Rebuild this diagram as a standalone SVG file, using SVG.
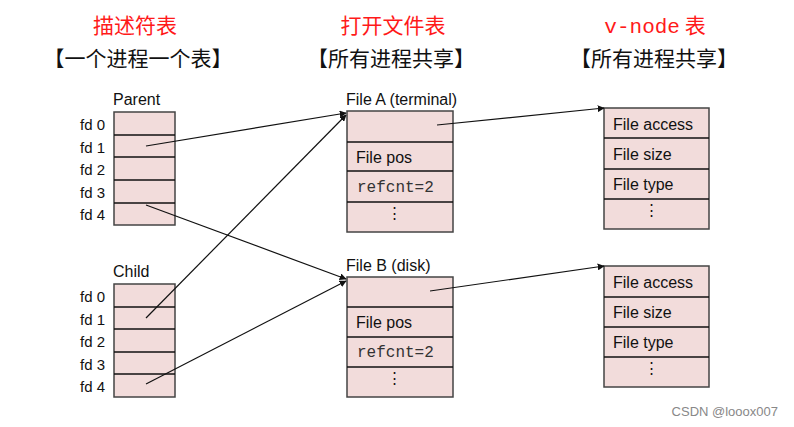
<svg xmlns="http://www.w3.org/2000/svg" width="794" height="427" viewBox="0 0 794 427">
<style>
.hdr{font-family:"Noto Sans CJK SC","Liberation Serif",serif;font-size:21px;text-anchor:middle}
.red{fill:#ff1a1a}
.blk{fill:#111}
.box{fill:#f2dcdb;stroke:#444;stroke-width:1.5}
.sep{stroke:#111;stroke-width:1.5}
.t{font-family:"Liberation Sans","Open Sans",sans-serif;font-size:16px;fill:#111}
.fd{font-family:"Liberation Sans","Open Sans",sans-serif;font-size:15px;fill:#111;text-anchor:end}
.mono{font-family:"Liberation Mono",monospace;font-size:16px;fill:#333}
.dots{font-family:"Liberation Sans",sans-serif;font-size:15px;fill:#111;text-anchor:middle}
.con{stroke:#111;stroke-width:1.2;fill:none;marker-end:url(#ah)}
</style>
<defs>
<marker id="ah" viewBox="0 0 10 10" refX="9" refY="5" markerWidth="7" markerHeight="7" markerUnits="userSpaceOnUse" orient="auto">
<path d="M0,0 L10,5 L0,10 z" fill="#111"/>
</marker>
</defs>

<g id="headers">
<text class="hdr red" x="135" y="33">描述符表</text>
<text class="hdr blk" x="138" y="66">【一个进程一个表】</text>
<text class="hdr red" x="393" y="33">打开文件表</text>
<text class="hdr blk" x="391" y="66">【所有进程共享】</text>
<text class="hdr red" x="655" y="33"><tspan font-family="Liberation Mono,monospace">v-node</tspan> 表</text>
<text class="hdr blk" x="654" y="66">【所有进程共享】</text>
</g>

<g id="parent">
<text class="t" x="113" y="105">Parent</text>
<rect class="box" x="114" y="112" width="61" height="113"/>
<line class="sep" x1="114" y1="135" x2="175" y2="135"/>
<line class="sep" x1="114" y1="157" x2="175" y2="157"/>
<line class="sep" x1="114" y1="180" x2="175" y2="180"/>
<line class="sep" x1="114" y1="203" x2="175" y2="203"/>
<text class="fd" x="105" y="130">fd 0</text>
<text class="fd" x="105" y="153">fd 1</text>
<text class="fd" x="105" y="175">fd 2</text>
<text class="fd" x="105" y="198">fd 3</text>
<text class="fd" x="105" y="220">fd 4</text>
</g>

<g id="child">
<text class="t" x="113" y="277">Child</text>
<rect class="box" x="114" y="284" width="61" height="113"/>
<line class="sep" x1="114" y1="307" x2="175" y2="307"/>
<line class="sep" x1="114" y1="329" x2="175" y2="329"/>
<line class="sep" x1="114" y1="352" x2="175" y2="352"/>
<line class="sep" x1="114" y1="374" x2="175" y2="374"/>
<text class="fd" x="105" y="302">fd 0</text>
<text class="fd" x="105" y="325">fd 1</text>
<text class="fd" x="105" y="347">fd 2</text>
<text class="fd" x="105" y="370">fd 3</text>
<text class="fd" x="105" y="392">fd 4</text>
</g>

<g id="fileA">
<text class="t" x="346" y="105">File A (terminal)</text>
<rect class="box" x="347" y="111" width="106" height="121"/>
<line class="sep" x1="347" y1="142" x2="453" y2="142"/>
<line class="sep" x1="347" y1="171" x2="453" y2="171"/>
<line class="sep" x1="347" y1="202" x2="453" y2="202"/>
<text class="t" x="356" y="163">File pos</text>
<text class="mono" x="357" y="192">refcnt=2</text>
<text class="dots" x="394" y="218">⋮</text>
</g>

<g id="fileB">
<text class="t" x="346" y="271">File B (disk)</text>
<rect class="box" x="347" y="277" width="106" height="120"/>
<line class="sep" x1="347" y1="307" x2="453" y2="307"/>
<line class="sep" x1="347" y1="337" x2="453" y2="337"/>
<line class="sep" x1="347" y1="367" x2="453" y2="367"/>
<text class="t" x="356" y="328">File pos</text>
<text class="mono" x="357" y="357">refcnt=2</text>
<text class="dots" x="394" y="383">⋮</text>
</g>

<g id="vnodeA">
<rect class="box" x="604" y="108" width="105" height="121"/>
<line class="sep" x1="604" y1="138" x2="709" y2="138"/>
<line class="sep" x1="604" y1="169" x2="709" y2="169"/>
<line class="sep" x1="604" y1="199" x2="709" y2="199"/>
<text class="t" x="613" y="130">File access</text>
<text class="t" x="613" y="160">File size</text>
<text class="t" x="613" y="190">File type</text>
<text class="dots" x="651" y="215">⋮</text>
</g>

<g id="vnodeB">
<rect class="box" x="604" y="266" width="105" height="121"/>
<line class="sep" x1="604" y1="297" x2="709" y2="297"/>
<line class="sep" x1="604" y1="327" x2="709" y2="327"/>
<line class="sep" x1="604" y1="357" x2="709" y2="357"/>
<text class="t" x="613" y="288">File access</text>
<text class="t" x="613" y="318">File size</text>
<text class="t" x="613" y="348">File type</text>
<text class="dots" x="651" y="373">⋮</text>
</g>

<g id="connectors">
<line class="con" x1="146" y1="146" x2="346" y2="113"/>
<line class="con" x1="146" y1="205" x2="346" y2="279"/>
<line class="con" x1="146" y1="318" x2="346" y2="115"/>
<line class="con" x1="146" y1="384" x2="346" y2="281"/>
<line class="con" x1="437" y1="125" x2="604" y2="108"/>
<line class="con" x1="430" y1="291" x2="604" y2="266"/>
</g>

<text x="778" y="416" font-family="Liberation Sans,sans-serif" font-size="13" fill="#888" text-anchor="end">CSDN @looox007</text>
</svg>
